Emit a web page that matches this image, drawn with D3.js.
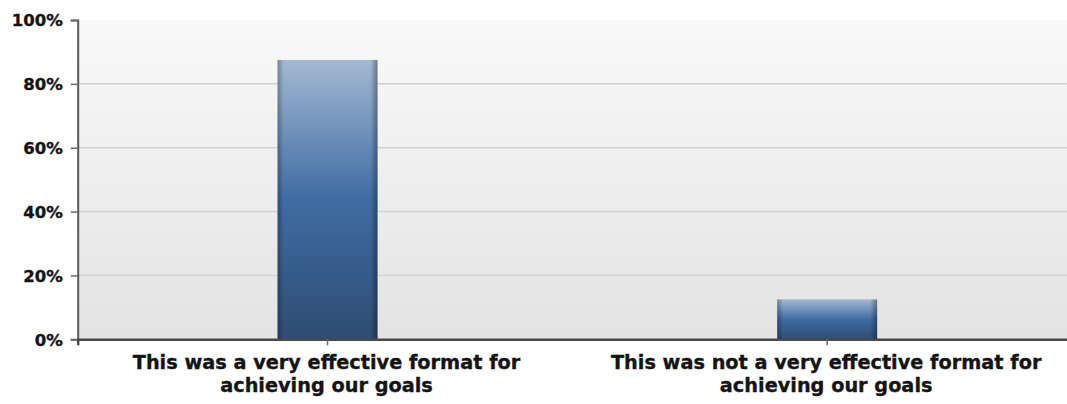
<!DOCTYPE html>
<html>
<head>
<meta charset="utf-8">
<script src="https://cdn.jsdelivr.net/npm/d3@7"></script>
<style>
  body { margin: 0; background: #fff; }
  text { font-family: "DejaVu Sans", Verdana, sans-serif; font-weight: bold; fill: #141414; }
</style>
</head>
<body>
<svg id="chart" width="1067" height="404"></svg>
<script>
// data
var categories = [
  ["This was a very effective format for", "achieving our goals"],
  ["This was not a very effective format for", "achieving our goals"]
];
var values = [87.5, 12.5];
var yTicks = [0, 20, 40, 60, 80, 100];

var svg = d3.select("#chart");
var margin = {top: 20, bottom: 65, left: 77.7, right: -10};
var svgWidth = 1067, svgHeight = 404;
var x0 = margin.left, x1 = svgWidth - margin.right;
var yBottom = svgHeight - margin.bottom + 0.3;

var xScale = d3.scaleBand().domain(d3.range(categories.length)).range([x0, x1]);
var yScale = d3.scaleLinear().domain([0, 100]).range([yBottom, margin.top]);

var defs = svg.append("defs");
// plot background
var bg = defs.append("linearGradient").attr("id", "bgGrad")
  .attr("x1", 0).attr("y1", 0).attr("x2", 0).attr("y2", 1);
bg.append("stop").attr("offset", "0%").attr("stop-color", "#f9f9f9");
bg.append("stop").attr("offset", "100%").attr("stop-color", "#e3e3e3");

// bar fill, top light to dark bottom
var bg2 = defs.append("linearGradient").attr("id", "barGrad")
  .attr("x1", 0).attr("y1", 0).attr("x2", 0).attr("y2", 1);
bg2.append("stop").attr("offset", "0%").attr("stop-color", "#a3b8d2");
bg2.append("stop").attr("offset", "50%").attr("stop-color", "#3f6ca3");
bg2.append("stop").attr("offset", "100%").attr("stop-color", "#2f4c72");

// darker sides of bars
var side = defs.append("linearGradient").attr("id", "sideGrad")
  .attr("x1", 0).attr("y1", 0).attr("x2", 1).attr("y2", 0);
side.append("stop").attr("offset", "0%").attr("stop-color", "#000").attr("stop-opacity", 0.28);
side.append("stop").attr("offset", "6%").attr("stop-color", "#000").attr("stop-opacity", 0);
side.append("stop").attr("offset", "93%").attr("stop-color", "#000").attr("stop-opacity", 0);
side.append("stop").attr("offset", "100%").attr("stop-color", "#000").attr("stop-opacity", 0.35);

svg.append("rect")
  .attr("x", x0).attr("y", yScale(100))
  .attr("width", x1 - x0).attr("height", yScale(0) - yScale(100))
  .style("fill", "url(#bgGrad)");

// grid lines
svg.append("g").selectAll("line")
  .data(yTicks.filter(function(d) { return d > 0 && d < 100; }))
  .enter().append("line")
  .attr("x1", x0).attr("x2", x1)
  .attr("y1", function(d) { return yScale(d); }).attr("y2", function(d) { return yScale(d); })
  .style("stroke", "#d2d2d2").style("stroke-width", 1.5);

// bars
var barW = xScale.bandwidth() * 0.2;
var bars = svg.append("g").selectAll("g").data(values).enter().append("g");
bars.append("rect")
  .attr("x", function(d, i) { return xScale(i) + xScale.bandwidth() / 2 - barW / 2; })
  .attr("y", function(d) { return yScale(d); })
  .attr("width", barW)
  .attr("height", function(d) { return yScale(0) - yScale(d); })
  .style("fill", "url(#barGrad)");
bars.append("rect")
  .attr("x", function(d, i) { return xScale(i) + xScale.bandwidth() / 2 - barW / 2; })
  .attr("y", function(d) { return yScale(d); })
  .attr("width", barW)
  .attr("height", function(d) { return yScale(0) - yScale(d); })
  .style("fill", "url(#sideGrad)");

// y axis
var yAxis = svg.append("g")
  .attr("transform", "translate(" + x0 + ",0)")
  .call(d3.axisLeft(yScale).tickValues(yTicks).tickSize(7).tickPadding(8)
        .tickFormat(function(d) { return d + "%"; }));
yAxis.select(".domain").style("stroke", "#5a5a5a").style("stroke-width", 2);
yAxis.selectAll(".tick line").style("stroke", "#6a6a6a").style("stroke-width", 1.5);
yAxis.selectAll(".tick text").style("font-size", "16.5px").attr("dy", "0.36em")
  .style("font-family", "DejaVu Sans").style("font-weight", "bold").style("fill", "#141414")
  .style("stroke", "#141414").style("stroke-width", 0.35);

// x axis
var xAxis = svg.append("g")
  .attr("transform", "translate(0," + yScale(0) + ")")
  .call(d3.axisBottom(xScale).tickSize(6).tickFormat(""));
xAxis.select(".domain").style("stroke", "#4a4a4a").style("stroke-width", 2.5);
xAxis.selectAll(".tick line").style("stroke", "#6a6a6a").style("stroke-width", 1.5);

// category labels, two lines each
var lab = svg.append("g").selectAll("text").data(categories).enter().append("text")
  .attr("x", function(d, i) { return xScale(i) + xScale.bandwidth() / 2 - 1; })
  .attr("y", yScale(0) + 30)
  .style("text-anchor", "middle").style("font-size", "19.3px")
  .style("stroke", "#141414").style("stroke-width", 0.35);
lab.selectAll("tspan").data(function(d) { return d; }).enter().append("tspan")
  .attr("x", function() { return d3.select(this.parentNode).attr("x"); })
  .attr("dy", function(d, j) { return j === 0 ? 0 : 23; })
  .text(function(d) { return d; });
</script>
</body>
</html>
